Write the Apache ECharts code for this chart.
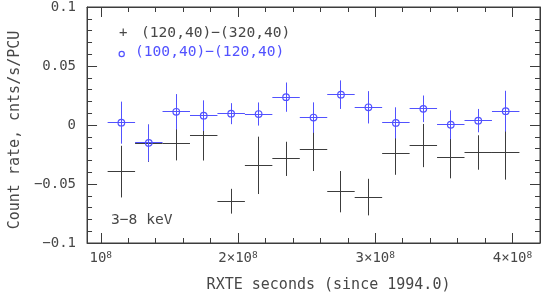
<!DOCTYPE html>
<html>
<head>
<meta charset="utf-8">
<script src="https://cdn.jsdelivr.net/npm/echarts@6/dist/echarts.min.js"></script>
<style>html,body{margin:0;padding:0;background:#fff}#c{width:542px;height:298px}</style>
</head>
<body>
<div id="c"></div>
<script>
// ---- data ----
const xCenters = [1.15e8, 1.35e8, 1.55e8, 1.75e8, 1.95e8, 2.15e8, 2.35e8, 2.55e8, 2.75e8, 2.95e8, 3.15e8, 3.35e8, 3.55e8, 3.75e8, 3.95e8];
const xHalfWidth = [1e7, 1e7, 1e7, 1e7, 1e7, 1e7, 1e7, 1e7, 1e7, 1e7, 1e7, 1e7, 1e7, 1e7, 1e7];
// (120,40)-(320,40) : black crosses
const outerRate = [-0.0395, -0.0155, -0.0160, -0.0087, -0.0646, -0.0342, -0.0287, -0.0206, -0.0565, -0.0611, -0.0241, -0.0174, -0.0274, -0.0233, -0.0233];
const outerErr  = [0.0219, 0.0157, 0.0140, 0.0214, 0.0105, 0.0243, 0.0145, 0.0184, 0.0175, 0.0155, 0.0181, 0.0183, 0.0178, 0.0146, 0.0230];
// (100,40)-(120,40) : blue circles
const innerRate = [0.0020, -0.0152, 0.0112, 0.0079, 0.0096, 0.0093, 0.0236, 0.0063, 0.0257, 0.0150, 0.0018, 0.0137, 0.0002, 0.0037, 0.0117];
const innerErr  = [0.0178, 0.0157, 0.0150, 0.0130, 0.0089, 0.0098, 0.0124, 0.0129, 0.0121, 0.0137, 0.0132, 0.0113, 0.0122, 0.0099, 0.0173];

const xMajorTicks = [1e8, 2e8, 3e8, 4e8];
const xMajorLabels = ['{b|10}{s|8}', '{b|2×10}{s|8}', '{b|3×10}{s|8}', '{b|4×10}{s|8}'];
const xMinorTicks = [1.2e8, 1.4e8, 1.6e8, 1.8e8, 2.2e8, 2.4e8, 2.6e8, 2.8e8, 3.2e8, 3.4e8, 3.6e8, 3.8e8];
const yTickValues = [-0.1, -0.05, 0, 0.05, 0.1];
const yTickLabels = ['−0.1', '−0.05', '0', '0.05', '0.1'];
const seriesNames = ['(120,40)−(320,40)', '(100,40)−(120,40)'];
const xTitle = 'RXTE seconds (since 1994.0)';
const yTitle = 'Count rate, cnts/s/PCU';
const bandLabel = '3−8 keV';

const INK = '#3c3c3c';
const TXT = '#474747';
const BLUE = '#5252ff';
const FONT = '"DejaVu Sans Mono", monospace';

function rows(ys, errs) {
  return xCenters.map((x, i) => [x, ys[i], xHalfWidth[i], errs[i]]);
}
function crisp(v) { return Math.round(v - 0.5) + 0.5; }
function makeRender(color, circle) {
  return function (params, api) {
    const x = api.value(0), y = api.value(1), xe = api.value(2), ye = api.value(3);
    const c = api.coord([x, y]);
    const l = api.coord([x - xe, y]);
    const r = api.coord([x + xe, y]);
    const t = api.coord([x, y + ye]);
    const b = api.coord([x, y - ye]);
    const cx = crisp(c[0]), cy = crisp(c[1]);
    const st = { stroke: color, lineWidth: 1, fill: null };
    const children = [
      { type: 'line', shape: { x1: l[0], y1: cy, x2: r[0], y2: cy }, style: st },
      { type: 'line', shape: { x1: cx, y1: t[1], x2: cx, y2: b[1] }, style: st }
    ];
    if (circle) {
      children.push({ type: 'circle', shape: { cx: c[0], cy: c[1], r: 3.3 }, style: { stroke: color, lineWidth: 1.2, fill: 'rgba(0,0,0,0)' } });
    }
    return { type: 'group', children: children };
  };
}

const xBase = { type: 'value', min: 0.9e8, max: 4.2e8, splitLine: { show: false } };
const yBase = { type: 'value', min: -0.1, max: 0.1, interval: 0.05, splitLine: { show: false } };

const chart = echarts.init(document.getElementById('c'), null, { renderer: 'canvas' });
chart.setOption({
  animation: false,
  backgroundColor: '#fff',
  grid: { left: 83, right: 2, top: 5, bottom: 46, show: true, borderColor: INK, borderWidth: 1, backgroundColor: 'transparent' },
  xAxis: [
    Object.assign({}, xBase, {
      position: 'bottom',
      axisLine: { show: true, onZero: false, lineStyle: { color: INK, width: 1 } },
      axisTick: { show: true, inside: true, length: 10, customValues: xMajorTicks, lineStyle: { color: INK } },
      axisLabel: {
        show: true, customValues: xMajorTicks, margin: 8, color: TXT, fontFamily: FONT,
        formatter: function (v) { const i = xMajorTicks.indexOf(v); return i >= 0 ? xMajorLabels[i] : ''; },
        rich: {
          b: { fontSize: 14, fontFamily: FONT, color: TXT, verticalAlign: 'bottom' },
          s: { fontSize: 9.5, fontFamily: FONT, color: TXT, verticalAlign: 'top' }
        }
      },
      name: xTitle, nameLocation: 'middle', nameGap: 35,
      nameTextStyle: { fontSize: 15, fontFamily: FONT, color: TXT, padding: [0, 0, 0, 30] }
    }),
    Object.assign({}, xBase, {
      position: 'bottom',
      axisLine: { show: false, onZero: false },
      axisTick: { show: true, inside: true, length: 5, customValues: xMinorTicks, lineStyle: { color: INK } },
      axisLabel: { show: false }
    }),
    Object.assign({}, xBase, {
      position: 'top',
      axisLine: { show: true, onZero: false, lineStyle: { color: INK, width: 1 } },
      axisTick: { show: true, inside: true, length: 10, customValues: xMajorTicks, lineStyle: { color: INK } },
      axisLabel: { show: false }
    }),
    Object.assign({}, xBase, {
      position: 'top',
      axisLine: { show: false, onZero: false },
      axisTick: { show: true, inside: true, length: 5, customValues: xMinorTicks, lineStyle: { color: INK } },
      axisLabel: { show: false }
    })
  ],
  yAxis: [
    Object.assign({}, yBase, {
      position: 'left',
      axisLine: { show: true, onZero: false, lineStyle: { color: INK, width: 1 } },
      axisTick: { show: true, inside: true, length: 10, lineStyle: { color: INK } },
      minorTick: { show: true, splitNumber: 5, length: 5, lineStyle: { color: INK } },
      axisLabel: {
        show: true, margin: 11, fontSize: 14, fontFamily: FONT, color: TXT,
        formatter: function (v) {
          for (let i = 0; i < yTickValues.length; i++) if (Math.abs(yTickValues[i] - v) < 1e-9) return yTickLabels[i];
          return '';
        }
      },
      name: yTitle, nameLocation: 'middle', nameGap: 64,
      nameTextStyle: { fontSize: 15, fontFamily: FONT, color: TXT, padding: [0, 10, 0, 0] }
    }),
    Object.assign({}, yBase, {
      position: 'right',
      axisLine: { show: true, onZero: false, lineStyle: { color: INK, width: 1 } },
      axisTick: { show: true, inside: true, length: 10, lineStyle: { color: INK } },
      minorTick: { show: true, splitNumber: 5, length: 5, lineStyle: { color: INK } },
      axisLabel: { show: false }
    })
  ],
  series: [
    {
      name: seriesNames[0], type: 'custom', xAxisIndex: 0, yAxisIndex: 0,
      renderItem: makeRender(INK, false), data: rows(outerRate, outerErr), clip: true
    },
    {
      name: seriesNames[1], type: 'custom', xAxisIndex: 0, yAxisIndex: 0,
      renderItem: makeRender(BLUE, true), data: rows(innerRate, innerErr), clip: true
    }
  ],
  graphic: [
    { type: 'text', left: 119, top: 26, style: { text: '+', fontSize: 14, fontFamily: FONT, fill: TXT } },
    { type: 'text', left: 141, top: 26, style: { text: seriesNames[0], fontSize: 14.6, fontFamily: FONT, fill: TXT } },
    { type: 'circle', shape: { cx: 121.7, cy: 54, r: 2.6 }, style: { stroke: BLUE, lineWidth: 1.2, fill: 'rgba(0,0,0,0)' } },
    { type: 'text', left: 135, top: 45, style: { text: seriesNames[1], fontSize: 14.6, fontFamily: FONT, fill: BLUE } },
    { type: 'text', left: 111, top: 213, style: { text: bandLabel, fontSize: 14.6, fontFamily: FONT, fill: TXT } }
  ]
});
</script>
</body>
</html>
